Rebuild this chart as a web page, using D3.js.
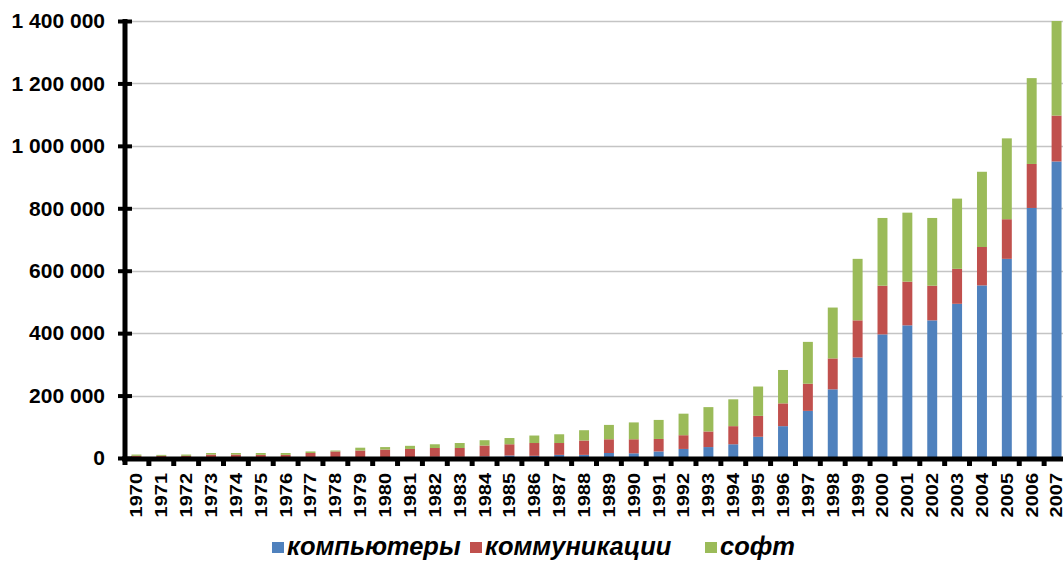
<!DOCTYPE html>
<html>
<head>
<meta charset="utf-8">
<script src="https://cdn.jsdelivr.net/npm/d3@7"></script>
<style>
  body { margin: 0; background: #fff; }
  svg { display: block; font-family: "Liberation Sans", Arial, sans-serif; }
  .y-label { font-size: 21px; font-weight: bold; }
  .x-label { font-size: 20px; font-weight: bold; }
  .legend-label { font-size: 25.5px; font-weight: bold; font-style: italic; }
</style>
</head>
<body>
<svg id="chart"></svg>
<script>
// years on the x axis
const years = d3.range(1970, 2008).map(String);

// series values
const computers = [1000, 1000, 1000, 1000, 1000, 1000, 1000, 2000, 2000, 2000,
  3000, 3000, 4000, 4000, 5000, 8000, 7000, 10000, 10000, 16000,
  15000, 21000, 29000, 35000, 44000, 68000, 102000, 151000, 220000, 322000,
  396000, 425000, 441000, 494000, 553000, 638000, 801000, 950000];
const communications = [6000, 6000, 6000, 10000, 10000, 9000, 9000, 14000, 19000, 22000,
  24000, 26000, 28000, 28000, 35000, 36000, 41000, 38000, 46000, 44000,
  45000, 40000, 44000, 50000, 58000, 67000, 73000, 87000, 99000, 119000,
  156000, 140000, 111000, 112000, 123000, 127000, 141000, 147000];
const software = [4000, 3000, 4000, 5000, 5000, 6000, 6000, 5000, 3000, 9000,
  8000, 10000, 12000, 16000, 17000, 20000, 24000, 28000, 33000, 46000,
  54000, 61000, 69000, 78000, 86000, 94000, 107000, 134000, 163000, 197000,
  217000, 221000, 217000, 225000, 241000, 259000, 275000, 303000];

const seriesKeys = ['computers', 'communications', 'software'];
const seriesNames = ['компьютеры', 'коммуникации', 'софт'];
const seriesColors = ['#4f81bd', '#c0504d', '#9bbb59'];
const yTicks = [0, 200000, 400000, 600000, 800000, 1000000, 1200000, 1400000];

const width = 1063, height = 561;
const margin = {top: 21, left: 124, bottom: 102};
const plotRight = 1069; // the last band runs past the picture edge
const legendX = [272, 470, 705];

const svg = d3.select('#chart')
  .attr('width', width)
  .attr('height', height);

const table = years.map((y, i) => ({
  year: y,
  computers: computers[i],
  communications: communications[i],
  software: software[i]
}));

const stacked = d3.stack().keys(seriesKeys)(table);

const xScale = d3.scaleBand()
  .domain(years)
  .range([margin.left, plotRight])
  .paddingInner(0.6)
  .paddingOuter(0.3);

const yScale = d3.scaleLinear()
  .domain([0, 1400000])
  .range([height - margin.bottom - 1, margin.top]);

// format with spaces as thousands separator
const fmt = d => d3.format(',')(d).replace(/,/g, ' ');

// gridlines
svg.append('g')
  .selectAll('line')
  .data(yTicks.slice(1))
  .join('line')
  .attr('x1', margin.left)
  .attr('x2', width)
  .attr('y1', d => Math.round(yScale(d)) + 0.5)
  .attr('y2', d => Math.round(yScale(d)) + 0.5)
  .attr('stroke', '#c4c4c4')
  .attr('stroke-width', 1.3);

// bars
svg.append('g')
  .selectAll('g')
  .data(stacked)
  .join('g')
  .attr('fill', (d, i) => seriesColors[i])
  .selectAll('rect')
  .data(d => d)
  .join('rect')
  .attr('x', d => xScale(d.data.year))
  .attr('width', xScale.bandwidth())
  .attr('y', d => yScale(d[1]))
  .attr('height', d => yScale(d[0]) - yScale(d[1]));

// y axis
const yAxis = d3.axisLeft(yScale)
  .tickValues(yTicks)
  .tickSize(0)
  .tickPadding(20)
  .tickFormat(fmt);

const yAxisG = svg.append('g')
  .attr('transform', `translate(${margin.left + 1},0)`)
  .call(yAxis);
yAxisG.select('.domain').remove();
yAxisG.selectAll('text').attr('class', 'y-label').attr('fill', '#000');
yAxisG.selectAll('.tick').append('line')
  .attr('x1', -7).attr('x2', 7)
  .attr('stroke', '#000').attr('stroke-width', 4);
yAxisG.append('line')
  .attr('y1', yScale(1400000) - 2)
  .attr('y2', yScale(0) + 7)
  .attr('stroke', '#000')
  .attr('stroke-width', 5);

// x axis: ticks sit on the band boundaries
const baseY = yScale(0);
const xAxisG = svg.append('g');
xAxisG.append('line')
  .attr('x1', margin.left - 2)
  .attr('x2', width)
  .attr('y1', baseY + 1)
  .attr('y2', baseY + 1)
  .attr('stroke', '#000')
  .attr('stroke-width', 5);
xAxisG.selectAll('.x-tick')
  .data(years.slice(1))
  .join('line')
  .attr('class', 'x-tick')
  .attr('x1', d => xScale(d) - xScale.step() * xScale.paddingInner() / 2)
  .attr('x2', d => xScale(d) - xScale.step() * xScale.paddingInner() / 2)
  .attr('y1', baseY)
  .attr('y2', baseY + 8)
  .attr('stroke', '#000')
  .attr('stroke-width', 5);

xAxisG.selectAll('.x-label')
  .data(years)
  .join('text')
  .attr('class', 'x-label')
  .attr('transform', d => `translate(${xScale(d) + xScale.bandwidth() / 2},${baseY + 15}) rotate(-90) scale(1,0.82)`)
  .attr('text-anchor', 'end')
  .attr('dy', '0.36em')
  .text(d => d);

// legend
const legend = svg.append('g').attr('transform', `translate(0,${height - 6})`);
const items = legend.selectAll('g')
  .data(seriesNames)
  .join('g')
  .attr('transform', (d, i) => `translate(${legendX[i]},0)`);
items.append('rect')
  .attr('y', -13)
  .attr('width', 12)
  .attr('height', 11)
  .attr('fill', (d, i) => seriesColors[i]);
items.append('text')
  .attr('class', 'legend-label')
  .attr('x', 15)
  .text(d => d);
</script>
</body>
</html>
